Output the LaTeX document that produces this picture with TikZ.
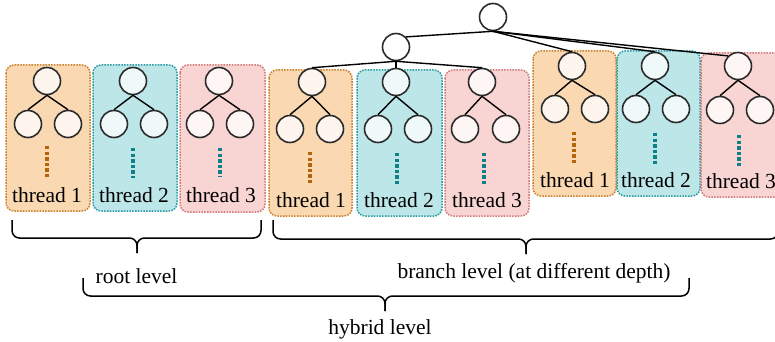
\documentclass[tikz,border=0pt]{standalone}
\usepackage{fontspec}
\setmainfont{Liberation Serif}
\definecolor{oFill}{HTML}{FAD9B2}
\definecolor{oLine}{HTML}{C8802A}
\definecolor{oCirc}{HTML}{FEF6EE}
\definecolor{oDot}{HTML}{B4650A}
\definecolor{tFill}{HTML}{BDE6E9}
\definecolor{tLine}{HTML}{2A9AA2}
\definecolor{tCirc}{HTML}{F0F9FA}
\definecolor{tDot}{HTML}{0E8088}
\definecolor{pFill}{HTML}{F8D4D3}
\definecolor{pLine}{HTML}{D07A78}
\definecolor{pCirc}{HTML}{FEF6F4}
\definecolor{cLine}{HTML}{2B2B2B}
\begin{document}
\begin{tikzpicture}[x=1pt,y=-1pt,
  thbox/.style={line width=1.5pt, dash pattern=on 1.6pt off 1.2pt, rounded corners=8pt},
  tnode/.style={circle, draw=cLine, line width=1.6pt, minimum size=27pt, inner sep=0pt},
  edge/.style={line width=1.4pt, black},
  dotline/.style={line width=3.3pt, dash pattern=on 3.4pt off 2.2pt},
  lbl/.style={font=\fontsize{21.5}{25}\selectfont, inner sep=0pt, text=black},
  bracepath/.style={line width=1.5pt, black, rounded corners=7.5pt}]
\path[use as bounding box] (0,0) rectangle (775,342);
\clip (0,0) rectangle (775,342);
\foreach \id/\bl/\br/\bt/\bb/\rx/\ry/\cl/\cr/\cy/\dx/\dt/\db/\tx/\tb/\BoxF/\BoxD/\CirF/\DotC/\num in {
  a1/6/90/65/211/47/81/28/68/124/47/146/177/47/202/oFill/oLine/oCirc/oDot/1,
  a2/93/177/65/211/133/81/114/154/124/133/148/178/134/202/tFill/tLine/tCirc/tDot/2,
  a3/180/265/65/212/219/81/200/240/124/220/148/177/221/202/pFill/pLine/pCirc/tDot/3,
  b1/269/352/70/216/312/82/290/330/129/310/152/183/311/207/oFill/oLine/oCirc/oDot/1,
  b2/357/442/70/216/396/82/378/418/129/397/153/184/399/207/tFill/tLine/tCirc/tDot/2,
  b3/445/529/70/216/482/82/465/506/129/484/153/184/487/207/pFill/pLine/pCirc/tDot/3,
  c1/533/616/51/196/572/66/555/595/109/574/132/163/575/187/oFill/oLine/oCirc/oDot/1,
  c2/617/700/51/196/655/66/636/676/109/655/133/164/656/187/tFill/tLine/tCirc/tDot/2,
  c3/701/800/53/197/738/66/720/760/110/739/135/166/741/188/pFill/pLine/pCirc/tDot/3}{
  \filldraw[thbox, fill=\BoxF, draw=\BoxD] (\bl,\bt) rectangle (\br,\bb);
  \node[tnode, fill=\CirF] (\id-r) at (\rx,\ry) {};
  \node[tnode, fill=\CirF] (\id-a) at (\cl,\cy) {};
  \node[tnode, fill=\CirF] (\id-b) at (\cr,\cy) {};
  \draw[edge] (\id-r.south) -- (\id-a.north);
  \draw[edge] (\id-r.south) -- (\id-b.north);
  \draw[dotline, draw=\DotC] (\dx,\dt) -- (\dx,\db);
  \node[lbl, anchor=base] (\id-t) at (\tx,\tb) {thread \num};
}
\node[tnode, fill=white] (T) at (493,17) {};
\node[tnode, fill=white] (M) at (396,47) {};
\draw[edge] (T.south) -- (M.north east);
\draw[edge] (T.south) -- (c1-r.north);
\draw[edge] (T.south) -- (c2-r.north);
\draw[edge] (T.south) -- (c3-r.north west);
\draw[edge] (M.south) -- (b1-r.north);
\draw[edge] (M.south) -- (b2-r.north);
\draw[edge] (M.south) -- (b3-r.north);
% braces
\draw[bracepath] (12,220) -- (12,238) -- (137,238) -- (137,253);
\draw[bracepath] (137,253) -- (137,238) -- (261,238) -- (261,220);
\draw[bracepath] (273,220) -- (273,239) -- (526,239) -- (526,254);
\draw[bracepath] (526,254) -- (526,239) -- (778,239) -- (778,220);
\draw[bracepath] (83,278) -- (83,296) -- (385,296) -- (385,311);
\draw[bracepath] (385,311) -- (385,296) -- (689,296) -- (689,278);
\node[lbl, anchor=base] (root) at (136.5,283) {root level};
\node[lbl, anchor=base] (branch) at (534,278) {branch level (at different depth)};
\node[lbl, anchor=base] (hybrid) at (380,334) {hybrid level};
\end{tikzpicture}
\end{document}
